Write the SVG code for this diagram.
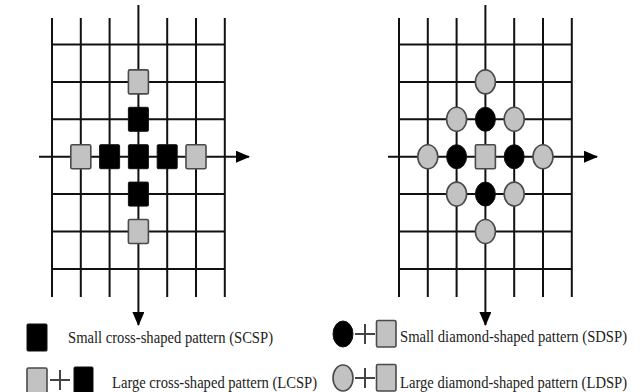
<svg xmlns="http://www.w3.org/2000/svg" width="640" height="392" viewBox="0 0 640 392">
<style>
.g{stroke:#111;stroke-width:2;fill:none}
.ax{stroke:#111;stroke-width:2;fill:none}
.blk{fill:#000;stroke:#111;stroke-width:1}
.gry{fill:#c2c2c2;stroke:#4a4a4a;stroke-width:1.6}
.pl{stroke:#444;stroke-width:2;fill:none}
.t{font-family:"Liberation Serif","Times New Roman",serif;font-size:13.5px;fill:#222}
</style>
<defs>
<marker id="ah" viewBox="0 0 14 12" refX="13" refY="6" markerWidth="14" markerHeight="12" markerUnits="userSpaceOnUse" orient="auto">
<path d="M0,0 L14,6 L0,12 Z" fill="#000"/>
</marker>
</defs>
<rect width="640" height="392" fill="#fff"/>
<g id="connectors">
<g id="grid-left">
<path class="g" d="M52,18V297M80.8,18V297M109.6,18V297M167.2,18V297M196,18V297M224.8,18V297"/>
<path class="g" d="M52,44.5H224.8M52,81.9H224.8M52,119.3H224.8M52,194.1H224.8M52,231.5H224.8M52,268.9H224.8"/>
<path class="ax" d="M138.4,5V325" marker-end="url(#ah)"/>
<path class="ax" d="M39,156.7H249" marker-end="url(#ah)"/>
</g>
<g id="grid-right">
<path class="g" d="M399,18V297M427.8,18V297M456.6,18V297M514.2,18V297M543,18V297M571.8,18V297"/>
<path class="g" d="M399,44.5H571.8M399,81.9H571.8M399,119.3H571.8M399,194.1H571.8M399,231.5H571.8M399,268.9H571.8"/>
<path class="ax" d="M485.4,5V325" marker-end="url(#ah)"/>
<path class="ax" d="M388,156.7H597" marker-end="url(#ah)"/>
</g>
</g>
<g id="cross-pattern">
<rect id="lcsp-top" class="gry" x="128.4" y="69.9" width="20" height="24" rx="1.5"/>
<rect id="scsp-top" class="blk" x="128.4" y="107.3" width="20" height="24" rx="1"/>
<rect id="lcsp-left" class="gry" x="70.8" y="144.7" width="20" height="24" rx="1.5"/>
<rect id="scsp-left" class="blk" x="99.6" y="144.7" width="20" height="24" rx="1"/>
<rect id="scsp-center" class="blk" x="128.4" y="144.7" width="20" height="24" rx="1"/>
<rect id="scsp-right" class="blk" x="157.2" y="144.7" width="20" height="24" rx="1"/>
<rect id="lcsp-right" class="gry" x="186" y="144.7" width="20" height="24" rx="1.5"/>
<rect id="scsp-bottom" class="blk" x="128.4" y="182.1" width="20" height="24" rx="1"/>
<rect id="lcsp-bottom" class="gry" x="128.4" y="219.5" width="20" height="24" rx="1.5"/>
</g>
<g id="diamond-pattern">
<ellipse id="ldsp-top" class="gry" cx="485.4" cy="81.9" rx="10" ry="12"/>
<ellipse id="ldsp-ul" class="gry" cx="456.6" cy="119.3" rx="10" ry="12"/>
<ellipse id="sdsp-top" class="blk" cx="485.4" cy="119.3" rx="10" ry="12"/>
<ellipse id="ldsp-ur" class="gry" cx="514.2" cy="119.3" rx="10" ry="12"/>
<ellipse id="ldsp-left" class="gry" cx="427.8" cy="156.7" rx="10" ry="12"/>
<ellipse id="sdsp-left" class="blk" cx="456.6" cy="156.7" rx="10" ry="12"/>
<rect id="dsp-center" class="gry" x="475.4" y="144.7" width="20" height="24" rx="1.5"/>
<ellipse id="sdsp-right" class="blk" cx="514.2" cy="156.7" rx="10" ry="12"/>
<ellipse id="ldsp-right" class="gry" cx="543" cy="156.7" rx="10" ry="12"/>
<ellipse id="ldsp-ll" class="gry" cx="456.6" cy="194.1" rx="10" ry="12"/>
<ellipse id="sdsp-bottom" class="blk" cx="485.4" cy="194.1" rx="10" ry="12"/>
<ellipse id="ldsp-lr" class="gry" cx="514.2" cy="194.1" rx="10" ry="12"/>
<ellipse id="ldsp-bottom" class="gry" cx="485.4" cy="231.5" rx="10" ry="12"/>
</g>
<g id="legend-scsp">
<rect class="blk" x="27" y="324" width="20" height="27" rx="1"/>
<text class="t" transform="translate(68,343) scale(1,1.25)" textLength="205" lengthAdjust="spacingAndGlyphs">Small cross-shaped pattern (SCSP)</text>
</g>
<g id="legend-lcsp">
<rect class="gry" x="27" y="368" width="20" height="27" rx="1.5"/>
<path class="pl" d="M50,380H70M60,370V390"/>
<rect class="blk" x="74" y="367" width="19" height="27" rx="1"/>
<text class="t" transform="translate(112,388) scale(1,1.25)" textLength="205" lengthAdjust="spacingAndGlyphs">Large cross-shaped pattern (LCSP)</text>
</g>
<g id="legend-sdsp">
<ellipse class="blk" cx="343" cy="334" rx="10" ry="13"/>
<path class="pl" d="M355,334H375M365,324V344"/>
<rect class="gry" x="376.5" y="320.5" width="19.5" height="26.5" rx="1.5"/>
<text class="t" transform="translate(400,342) scale(1,1.25)" textLength="227" lengthAdjust="spacingAndGlyphs">Small diamond-shaped pattern (SDSP)</text>
</g>
<g id="legend-ldsp">
<ellipse class="gry" cx="343" cy="378" rx="10" ry="13"/>
<path class="pl" d="M355,378H375M365,368V388"/>
<rect class="gry" x="376.5" y="364.5" width="19.5" height="26.5" rx="1.5"/>
<text class="t" transform="translate(400,388) scale(1,1.25)" textLength="227" lengthAdjust="spacingAndGlyphs">Large diamond-shaped pattern (LDSP)</text>
</g>
</svg>
